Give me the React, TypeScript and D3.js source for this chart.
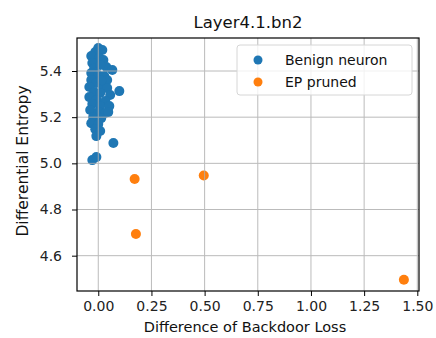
import * as d3 from 'd3';
import React, { useEffect, useRef } from 'react';

// benign neurons: [difference of backdoor loss, differential entropy]
const benignX = [
  0.0, -0.014, 0.019, -0.033, 0.005, -0.028, 0.024, 0.038, 0.066, -0.019,
  0.009, -0.033, 0.0, 0.028, 0.042, -0.033, -0.009, 0.019, -0.042, 0.042,
  0.099, -0.019, 0.009, 0.056, -0.042, -0.009, 0.033, -0.028, 0.009, 0.052,
  -0.038, 0.0, 0.033, -0.024, 0.014, -0.033, 0.0, -0.014, 0.009, -0.009,
  0.071, -0.028, -0.009, 0.047, 0.014,
];
const benignY = [
  5.5, 5.482, 5.491, 5.465, 5.456, 5.435, 5.448, 5.417, 5.404, 5.413,
  5.426, 5.391, 5.383, 5.378, 5.361, 5.361, 5.348, 5.339, 5.331, 5.326,
  5.313, 5.309, 5.305, 5.296, 5.287, 5.274, 5.27, 5.257, 5.248, 5.248,
  5.231, 5.222, 5.218, 5.2, 5.196, 5.174, 5.17, 5.148, 5.14, 5.118,
  5.088, 5.014, 5.027, 5.222, 5.36,
];

// EP pruned neurons
const prunedX = [0.171, 0.177, 0.496, 1.437];
const prunedY = [4.932, 4.694, 4.947, 4.496];

const xTicks = [0, 0.25, 0.5, 0.75, 1.0, 1.25, 1.5];
const yTicks = [4.6, 4.8, 5.0, 5.2, 5.4];

const seriesNames = ['Benign neuron', 'EP pruned'];
const seriesColors = ['#1f77b4', '#ff7f0e'];

const App: React.FC = () => {
  const svgRef = useRef<SVGSVGElement | null>(null);

  useEffect(() => {
    if (!svgRef.current) return;
    const width = 436;
    const height = 338;
    const margin = { top: 38, right: 17, bottom: 47, left: 77 };
    const font = 'DejaVu Sans, sans-serif';

    const svg = d3.select(svgRef.current);
    svg.selectAll('*').remove();

    const x = d3.scaleLinear().domain([-0.1, 1.508]).range([margin.left, width - margin.right]);
    const y = d3.scaleLinear().domain([4.447, 5.543]).range([height - margin.bottom, margin.top]);

    const benign = benignX.map((v, i) => ({ x: v, y: benignY[i] }));
    const pruned = prunedX.map((v, i) => ({ x: v, y: prunedY[i] }));

    // points
    svg.append('g')
      .selectAll('circle')
      .data(benign)
      .enter()
      .append('circle')
      .attr('cx', (d) => x(d.x))
      .attr('cy', (d) => y(d.y))
      .attr('r', 5)
      .style('fill', seriesColors[0]);

    svg.append('g')
      .selectAll('circle')
      .data(pruned)
      .enter()
      .append('circle')
      .attr('cx', (d) => x(d.x))
      .attr('cy', (d) => y(d.y))
      .attr('r', 5)
      .style('fill', seriesColors[1]);

    // grid (drawn over the points, like the original)
    const grid = svg.append('g').attr('stroke', '#b0b0b0').attr('stroke-width', 1).attr('opacity', 0.85);
    xTicks.forEach((t) => {
      grid.append('line')
        .attr('x1', x(t)).attr('x2', x(t))
        .attr('y1', margin.top).attr('y2', height - margin.bottom);
    });
    yTicks.forEach((t) => {
      grid.append('line')
        .attr('x1', margin.left).attr('x2', width - margin.right)
        .attr('y1', y(t)).attr('y2', y(t));
    });

    // axes
    const xAxis = svg.append('g')
      .attr('transform', `translate(0, ${height - margin.bottom})`)
      .call(d3.axisBottom(x).tickValues(xTicks).tickFormat(d3.format('.2f')).tickSize(5).tickPadding(5));
    const yAxis = svg.append('g')
      .attr('transform', `translate(${margin.left}, 0)`)
      .call(d3.axisLeft(y).tickValues(yTicks).tickFormat(d3.format('.1f')).tickSize(5).tickPadding(10));
    [xAxis, yAxis].forEach((a) => {
      a.select('.domain').remove();
      a.selectAll('text').style('font-family', font).style('font-size', '14px').attr('fill', '#222');
      a.selectAll('line').attr('stroke', '#000');
    });

    // frame
    svg.append('rect')
      .attr('x', margin.left).attr('y', margin.top)
      .attr('width', width - margin.left - margin.right)
      .attr('height', height - margin.top - margin.bottom)
      .attr('fill', 'none').attr('stroke', '#000').attr('stroke-width', 1.2);

    // title + labels
    svg.append('text')
      .attr('x', (margin.left + width - margin.right) / 2).attr('y', 27.5)
      .attr('text-anchor', 'middle')
      .style('font-family', font).style('font-size', '16.5px').attr('fill', '#111')
      .text('Layer4.1.bn2');
    svg.append('text')
      .attr('x', 245).attr('y', 332)
      .attr('text-anchor', 'middle')
      .style('font-family', font).style('font-size', '14.5px').attr('fill', '#111')
      .text('Difference of Backdoor Loss');
    svg.append('text')
      .attr('transform', `translate(28, 161) rotate(-90)`)
      .attr('text-anchor', 'middle')
      .style('font-family', font).style('font-size', '15.5px').attr('fill', '#111')
      .text('Differential Entropy');

    // legend
    const legend = svg.append('g');
    legend.append('rect')
      .attr('x', 237).attr('y', 45).attr('width', 175).attr('height', 50)
      .attr('rx', 3)
      .attr('fill', 'rgba(255,255,255,0.8)').attr('stroke', '#d6d6d6');
    seriesNames.forEach((name, i) => {
      const ly = 60 + i * 22;
      legend.append('circle').attr('cx', 258).attr('cy', ly).attr('r', 4.5).style('fill', seriesColors[i]);
      legend.append('text')
        .attr('x', 285).attr('y', ly + 5)
        .style('font-family', font).style('font-size', '14px').attr('fill', '#111')
        .text(name);
    });
  }, []);

  return (
    <svg
      ref={svgRef}
      width={436}
      height={338}
      style={{ position: 'absolute', left: 0, top: 0, background: '#fff' }}
    />
  );
};

export default App;
